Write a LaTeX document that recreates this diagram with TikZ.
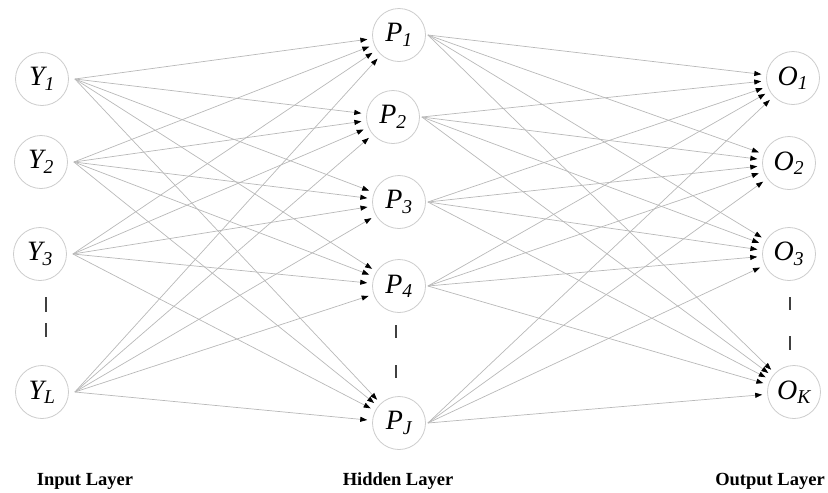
\documentclass[tikz,border=0pt]{standalone}
\usepackage{fontspec}
\setmainfont{Liberation Serif}
\usetikzlibrary{arrows.meta}
\tikzset{
  neuron/.style={circle, draw=black!20, line width=0.8pt, minimum size=53pt, inner sep=0pt, font=\fontsize{28}{30}\selectfont\itshape},
  edge/.style={draw=black!28, line width=0.7pt, -{Triangle[length=7pt,width=5pt,black]}, shorten >=5pt},
  vdash/.style={draw=black!75, line width=1.5pt},
  layerlabel/.style={font=\fontsize{18.5}{20}\selectfont\bfseries}
}
\newcommand{\nsub}[2]{#1\textsubscript{\itshape #2}}
\begin{document}
\begin{tikzpicture}[x=1pt,y=-1pt]
\useasboundingbox (0,0) rectangle (828,493);
% input layer
\node[neuron] (y1) at (42,79) {\nsub{Y}{1}};
\node[neuron] (y2) at (41,162) {\nsub{Y}{2}};
\node[neuron] (y3) at (40,254) {\nsub{Y}{3}};
\node[neuron] (yl) at (42,392) {\nsub{Y}{L}};
% hidden layer
\node[neuron] (p1) at (399,35) {\nsub{P}{1}};
\node[neuron] (p2) at (393,117) {\nsub{P}{2}};
\node[neuron] (p3) at (399,202) {\nsub{P}{3}};
\node[neuron] (p4) at (399,286) {\nsub{P}{4}};
\node[neuron] (pj) at (399,423) {\nsub{P}{J}};
% output layer
\node[neuron] (o1) at (793,78) {\nsub{O}{1}};
\node[neuron] (o2) at (789,163) {\nsub{O}{2}};
\node[neuron] (o3) at (789,254) {\nsub{O}{3}};
\node[neuron] (ok) at (794,392) {\nsub{O}{K}};
% edges
\foreach \s in {y1,y2,y3,yl}
  \foreach \t in {p1,p2,p3,p4,pj}
    \draw[edge] ([xshift=6pt]\s.east) -- (\t);
\foreach \s in {p1,p2,p3,p4,pj}
  \foreach \t in {o1,o2,o3,ok}
    \draw[edge] ([xshift=2pt]\s.east) -- (\t);
% ellipsis dashes
\coordinate (ia) at (46,297); \coordinate (ib) at (46,312);
\coordinate (ic) at (46,323); \coordinate (id) at (46,337);
\draw[vdash] (ia) -- (ib); \draw[vdash] (ic) -- (id);
\coordinate (ha) at (396,325); \coordinate (hb) at (396,338);
\coordinate (hc) at (396,365); \coordinate (hd) at (396,378);
\draw[vdash] (ha) -- (hb); \draw[vdash] (hc) -- (hd);
\coordinate (oa) at (790,297); \coordinate (ob) at (790,310);
\coordinate (oc) at (790,336); \coordinate (od) at (790,350);
\draw[vdash] (oa) -- (ob); \draw[vdash] (oc) -- (od);
% labels
\node[layerlabel] (lin) at (85,481) {Input Layer};
\node[layerlabel] (lhid) at (398,481) {Hidden Layer};
\node[layerlabel] (lout) at (770,481) {Output Layer};
\end{tikzpicture}
\end{document}
